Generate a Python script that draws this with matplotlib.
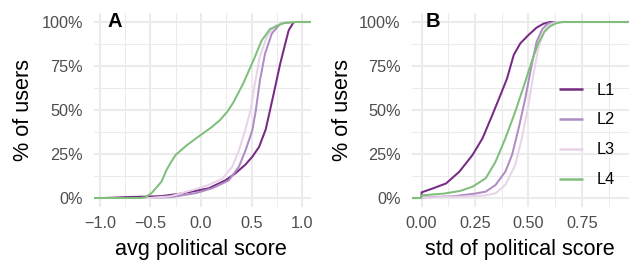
import matplotlib
matplotlib.use("Agg")
import matplotlib.pyplot as plt
import numpy as np

plt.rcParams['font.family'] = ['Liberation Sans', 'DejaVu Sans']

levels = ["L1", "L2", "L3", "L4"]
colors = ["#762A83", "#AF8DC3", "#E7D4E8", "#7FBF7B"]

# Panel A: ECDF of average political score (x, cumulative share)
a_L1_x = [-0.96, -0.85, -0.75, -0.60, -0.40, -0.20, -0.057, 0.076, 0.24, 0.34, 0.44, 0.508, 0.574, 0.64, 0.683, 0.733, 0.783, 0.833, 0.867, 0.917, 0.99]
a_L1_y = [0.0, 0.002, 0.005, 0.007, 0.01, 0.025, 0.04, 0.055, 0.10, 0.14, 0.19, 0.235, 0.29, 0.39, 0.50, 0.63, 0.763, 0.877, 0.953, 1.0, 1.0]
a_L2_x = [-0.96, -0.50, -0.30, -0.057, 0.11, 0.275, 0.375, 0.44, 0.508, 0.54, 0.583, 0.633, 0.70, 0.783, 0.89, 0.99]
a_L2_y = [0.0, 0.0, 0.005, 0.027, 0.055, 0.10, 0.178, 0.27, 0.386, 0.49, 0.669, 0.82, 0.934, 0.99, 1.0, 1.0]
a_L3_x = [-0.96, -0.50, -0.30, -0.057, 0.076, 0.21, 0.31, 0.375, 0.44, 0.49, 0.53, 0.58, 0.65, 0.733, 0.85, 0.99]
a_L3_y = [0.0, 0.0, 0.01, 0.05, 0.074, 0.11, 0.178, 0.27, 0.39, 0.50, 0.64, 0.80, 0.915, 0.98, 1.0, 1.0]
a_L4_x = [-0.96, -0.60, -0.55, -0.49, -0.39, -0.34, -0.30, -0.25, -0.14, -0.017, 0.10, 0.183, 0.26, 0.317, 0.417, 0.517, 0.60, 0.683, 0.817, 0.95, 0.99]
a_L4_y = [0.0, 0.0, 0.004, 0.027, 0.093, 0.16, 0.20, 0.245, 0.30, 0.352, 0.40, 0.44, 0.49, 0.54, 0.65, 0.78, 0.895, 0.96, 0.994, 1.0, 1.0]

# Panel B: ECDF of std of political score
b_L1_x = [0.0, 0.0, 0.054, 0.115, 0.177, 0.238, 0.285, 0.331, 0.369, 0.40, 0.431, 0.462, 0.50, 0.538, 0.57, 0.60, 0.924]
b_L1_y = [0.0, 0.032, 0.055, 0.083, 0.15, 0.244, 0.339, 0.472, 0.585, 0.68, 0.8125, 0.879, 0.926, 0.968, 0.99, 1.0, 1.0]
b_L2_x = [0.0, 0.0, 0.15, 0.25, 0.30, 0.346, 0.392, 0.423, 0.454, 0.485, 0.515, 0.538, 0.565, 0.59, 0.62, 0.924]
b_L2_y = [0.0, 0.003, 0.01, 0.025, 0.036, 0.074, 0.15, 0.244, 0.396, 0.566, 0.756, 0.888, 0.96, 0.99, 1.0, 1.0]
b_L3_x = [0.0, 0.0, 0.20, 0.30, 0.346, 0.392, 0.438, 0.469, 0.50, 0.523, 0.546, 0.575, 0.60, 0.635, 0.924]
b_L3_y = [0.0, 0.002, 0.008, 0.015, 0.027, 0.074, 0.1875, 0.339, 0.528, 0.70, 0.85, 0.95, 0.985, 1.0, 1.0]
b_L4_x = [0.0, 0.0, 0.104, 0.18, 0.238, 0.30, 0.346, 0.392, 0.438, 0.485, 0.515, 0.546, 0.575, 0.60, 0.63, 0.66, 0.924]
b_L4_y = [0.0, 0.015, 0.025, 0.04, 0.064, 0.112, 0.206, 0.339, 0.49, 0.661, 0.775, 0.88, 0.945, 0.975, 0.993, 1.0, 1.0]

a_series = [(a_L1_x, a_L1_y), (a_L2_x, a_L2_y), (a_L3_x, a_L3_y), (a_L4_x, a_L4_y)]
b_series = [(b_L1_x, b_L1_y), (b_L2_x, b_L2_y), (b_L3_x, b_L3_y), (b_L4_x, b_L4_y)]

a_xticks = [-1.0, -0.5, 0.0, 0.5, 1.0]
b_xticks = [0.0, 0.25, 0.5, 0.75]
yticks = [0.0, 0.25, 0.5, 0.75, 1.0]

W, H = 629, 260
fig = plt.figure(figsize=(W / 100, H / 100), dpi=100)

def px_box(l, r, t, b):
    return [l / W, 1 - b / H, (r - l) / W, (b - t) / H]

axA = fig.add_axes(px_box(94, 311, 13.2, 206.8))
axB = fig.add_axes(px_box(411.7, 629, 13.2, 206.8))

def expand(lo, hi):
    d = hi - lo
    return lo - 0.05 * d, hi + 0.05 * d

TICK_FS = 11.7
TITLE_FS = 15.6

def style(ax, xlim, xticks, xminor, xfmt):
    ax.set_xlim(*xlim)
    ax.set_ylim(-0.05, 1.05)
    for s in ax.spines.values():
        s.set_visible(False)
    ax.set_xticks(xticks)
    ax.set_xticklabels([xfmt(v) for v in xticks])
    ax.set_xticks(xminor, minor=True)
    ax.set_yticks(yticks)
    ax.set_yticklabels(["%d%%" % round(v * 100) for v in yticks])
    ax.set_yticks([0.125, 0.375, 0.625, 0.875], minor=True)
    ax.grid(True, which='major', color='#EBEBEB', linewidth=1.45)
    ax.grid(True, which='minor', color='#EBEBEB', linewidth=0.75)
    ax.set_axisbelow(True)
    ax.tick_params(which='both', length=0, labelsize=TICK_FS, colors='#4D4D4D')
    ax.tick_params(axis='y', pad=8)
    ax.tick_params(axis='x', pad=6.5)
    ax.set_facecolor('white')

xlimA = expand(-0.96, 0.99)
xlimB = expand(0.0, 0.924)

def fmtA(v):
    return ("%.1f" % v).replace("-", "\u2212")

def fmtB(v):
    return "%.2f" % v

style(axA, xlimA, a_xticks, [-0.75, -0.25, 0.25, 0.75], fmtA)
style(axB, xlimB, b_xticks, [0.125, 0.375, 0.625, 0.875], fmtB)

for ax, series, xl in [(axA, a_series, xlimA), (axB, b_series, xlimB)]:
    for (xs, ys), c, lab in zip(series, colors, levels):
        xx = [xl[0]] + list(xs) + [xl[1]]
        yy = [0.0] + list(ys) + [1.0]
        ax.plot(xx, yy, color=c, linewidth=1.45, label=lab, solid_capstyle='butt')

# Axis titles
fig.text(201 / W, 1 - 249.5 / H, "avg political score", ha='center', va='center', fontsize=TITLE_FS, color='black')
fig.text(520 / W, 1 - 249.5 / H, "std of political score", ha='center', va='center', fontsize=TITLE_FS, color='black')
fig.text(24 / W, 1 - 110 / H, "% of users", ha='center', va='center', rotation=90, fontsize=TITLE_FS, color='black')
fig.text(343 / W, 1 - 110 / H, "% of users", ha='center', va='center', rotation=90, fontsize=TITLE_FS, color='black')

# Panel labels
fig.text(114.5 / W, 1 - 21.7 / H, "A", ha='center', va='center', fontsize=14.5, fontweight='bold')
fig.text(433 / W, 1 - 21.7 / H, "B", ha='center', va='center', fontsize=14.5, fontweight='bold')

# Legend inside panel B
leg = axB.legend(loc='center left', bbox_to_anchor=((559 - 411.7) / (629 - 411.7), 0.371),
                 frameon=False, fontsize=TICK_FS, handlelength=1.46, handletextpad=0.86,
                 labelspacing=0.92, borderaxespad=0, borderpad=0)
for lh in leg.get_lines():
    lh.set_linewidth(1.8)

fig.savefig("out.png", dpi=100, facecolor='white')
